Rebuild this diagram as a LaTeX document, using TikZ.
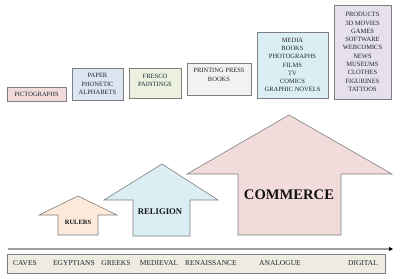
\documentclass[tikz,border=0pt]{standalone}
\usepackage{fontspec}
\setmainfont{Liberation Serif}
\usetikzlibrary{shadows,arrows.meta}
\definecolor{txt}{HTML}{1E2632}
\definecolor{dark}{HTML}{141414}
\definecolor{bordergray}{HTML}{7F7F7F}
\definecolor{cpink}{HTML}{F2DCDB}
\definecolor{cblue}{HTML}{DCE6F2}
\definecolor{cgreen}{HTML}{EBF1DE}
\definecolor{cgray}{HTML}{F2F2F2}
\definecolor{ccyan}{HTML}{DBEEF4}
\definecolor{clav}{HTML}{E5E0EC}
\definecolor{cpeach}{HTML}{FDE9D9}
\definecolor{cbeige}{HTML}{EEECE1}
\begin{document}
\begin{tikzpicture}[x=1pt,y=-1pt,
  box/.style={draw=bordergray, line width=0.6pt, align=center,
    font=\fontsize{6.5}{8.3}\selectfont, text=txt, inner sep=0pt,
    drop shadow={shadow xshift=1pt,shadow yshift=-1pt,opacity=0.35}},
  bigarrow/.style={draw=bordergray, line width=0.6pt, line join=miter},
  arrowlabel/.style={text=dark, inner sep=0pt},
  era/.style={text=txt, font=\fontsize{7.5}{9}\selectfont, inner sep=0pt}
]
\useasboundingbox[fill=white] (0,0) rectangle (400,279);

% top boxes
\node[box, fill=cpink, minimum width=59pt, minimum height=14pt] (picto) at (36.5,94) {PICTOGRAPHS};
\node[box, fill=cblue, minimum width=51pt, minimum height=32pt] (paper) at (97.5,84) {PAPER\\PHONETIC\\ALPHABETS};
\node[box, fill=cgreen, minimum width=52pt, minimum height=30pt] (fresco) at (155,83) {FRESCO\\PAINTINGS\\[-2.3pt]\mbox{}};
\node[box, fill=cgray, minimum width=64pt, minimum height=32pt] (printing) at (219,79) {PRINTING PRESS\\BOOKS\\\mbox{}};
\node[box, fill=ccyan, minimum width=71pt, minimum height=66pt] (media) at (292.5,65) {MEDIA\\BOOKS\\PHOTOGRAPHS\\FILMS\\TV\\COMICS\\GRAPHIC NOVELS};
\node[box, fill=clav, minimum width=57pt, minimum height=94pt] (products) at (362.5,52) {PRODUCTS\\3D MOVIES\\GAMES\\SOFTWARE\\WEBCOMICS\\NEWS\\MUSEUMS\\CLOTHES\\FIGURINES\\TATTOOS};

% big arrows
\draw[bigarrow, fill=cpeach] (78,196) -- (117,215) -- (98,215) -- (98,235) -- (58,235) -- (58,215) -- (39,215) -- cycle;
\draw[bigarrow, fill=ccyan] (162,164) -- (218,200) -- (190,200) -- (190,236) -- (133,236) -- (133,200) -- (104,200) -- cycle;
\draw[bigarrow, fill=cpink] (289,115) -- (392,174) -- (341,174) -- (341,235) -- (238,235) -- (238,174) -- (187,174) -- cycle;

\node[arrowlabel, font=\fontsize{6.5}{8}\selectfont\bfseries] (rulers) at (78,222) {RULERS};
\node[arrowlabel, font=\fontsize{8.7}{10}\selectfont\bfseries] (religion) at (160,212) {RELIGION};
\node[arrowlabel, font=\fontsize{14.6}{16}\selectfont\bfseries] (commerce) at (289,195) {COMMERCE};

% timeline axis
\coordinate (axstart) at (8,249);
\coordinate (axend) at (393,249);
\draw[draw=black!38, line width=1.5pt, -{Triangle[black,length=4pt,width=4pt]}] (axstart) -- (axend);

% era bar
\node[box, fill=cbeige, minimum width=378pt, minimum height=19pt] (erabar) at (196,263.5) {};
\node[era] (caves) at (25,263.5) {CAVES};
\node[era] (egypt) at (74,263.5) {EGYPTIANS};
\node[era] (greeks) at (116,263.5) {GREEKS};
\node[era] (medieval) at (159,263.5) {MEDIEVAL};
\node[era] (renaiss) at (211,263.5) {RENAISSANCE};
\node[era] (analogue) at (280,263.5) {ANALOGUE};
\node[era] (digital) at (363,263.5) {DIGITAL};
\end{tikzpicture}
\end{document}
